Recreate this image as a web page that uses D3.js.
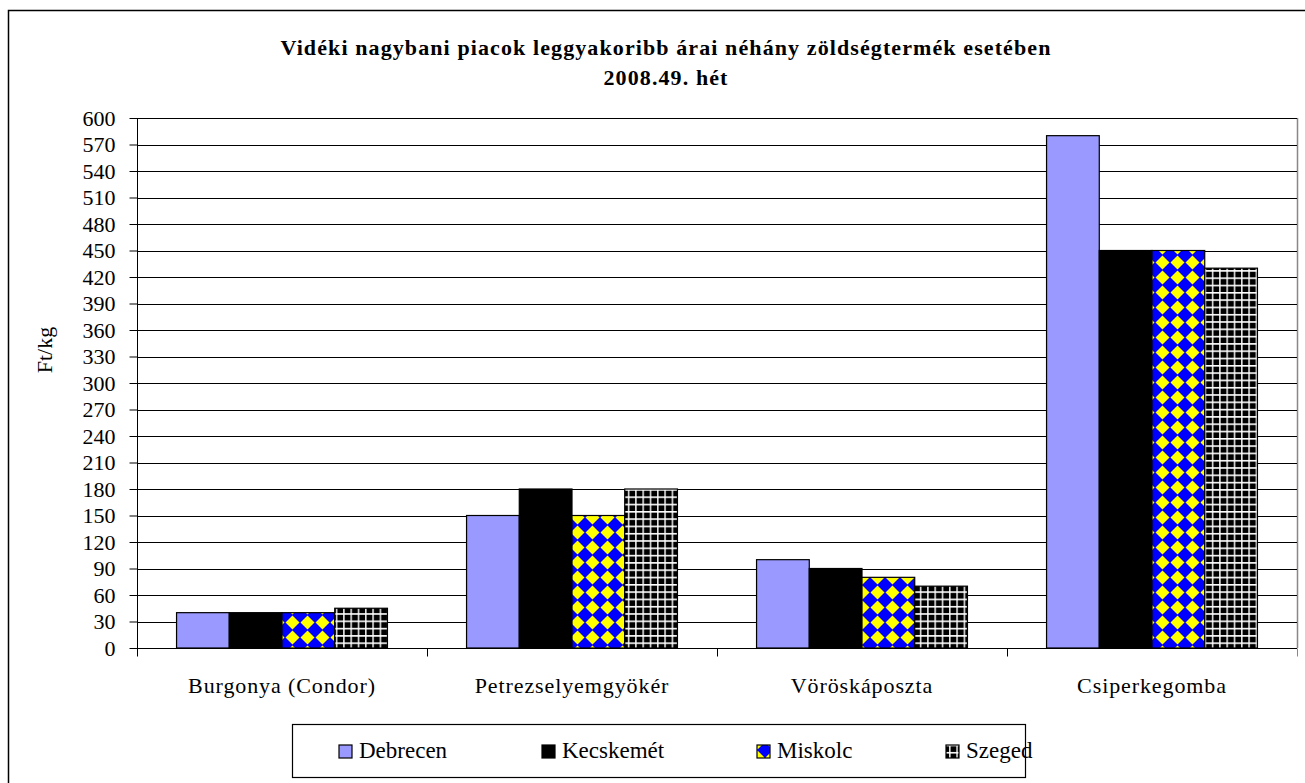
<!DOCTYPE html>
<html>
<head>
  <meta charset="UTF-8">
  <style>
    body { margin: 0; background: #fff; }
    svg text { font-family: "Liberation Serif", "Times New Roman", serif; fill: #000; }
  </style>
</head>
<body>
<svg></svg>
<script src="https://d3js.org/d3.v7.min.js"></script>
<script>

let width = 1305, height = 783;

// data
let categories = ["Burgonya (Condor)", "Petrezselyemgyökér", "Vöröskáposzta", "Csiperkegomba"];
let series = ["Debrecen", "Kecskemét", "Miskolc", "Szeged"];
let debrecen = [40, 150, 100, 580];
let kecskemet = [40, 180, 90, 450];
let miskolc = [40, 150, 80, 450];
let szeged = [45, 180, 70, 430];
let yTicks = d3.range(0, 601, 30);

let values = [debrecen, kecskemet, miskolc, szeged];

let svg = d3.select("svg")
    .attr("width", width)
    .attr("height", height);

let defs = svg.append("defs");

// Miskolc: blue with yellow diamonds
let pm = defs.append("pattern")
    .attr("id", "diamond")
    .attr("patternUnits", "userSpaceOnUse")
    .attr("width", 15).attr("height", 15);
pm.append("rect").attr("width", 15).attr("height", 15).attr("fill", "#0000ff");
pm.append("path").attr("d", "M7.5,0.5 L14.5,7.5 L7.5,14.5 L0.5,7.5 Z").attr("fill", "#ffff00");

// Szeged: black with white grid
let ps = defs.append("pattern")
    .attr("id", "grid")
    .attr("patternUnits", "userSpaceOnUse")
    .attr("width", 7.3).attr("height", 7.3);
ps.append("rect").attr("width", 7.3).attr("height", 7.3).attr("fill", "#000");
ps.append("path").attr("d", "M0.8,0 V7.3 M0,0.8 H7.3").attr("stroke", "#fff").attr("stroke-width", 1.4);

let fills = ["#9999ff", "#000000", "url(#diamond)", "url(#grid)"];

// chart frame
svg.append("rect")
    .attr("x", 8.5).attr("y", 10.5)
    .attr("width", 1310).attr("height", 790)
    .attr("fill", "none").attr("stroke", "#000").attr("stroke-width", 1.5);

// title
let title = svg.append("text")
    .attr("text-anchor", "middle")
    .attr("font-weight", "bold")
    .style("font-size", "22px")
    .style("letter-spacing", "1.1px");
title.append("tspan").attr("x", 666).attr("y", 55).text("Vidéki nagybani piacok leggyakoribb árai néhány zöldségtermék esetében");
title.append("tspan").attr("x", 666).attr("y", 85).text("2008.49. hét");

let margin = {left: 137, right: 1297, top: 118, bottom: 648};

let x = d3.scaleBand()
    .domain(categories)
    .range([margin.left, margin.right])
    .paddingInner(0)
    .paddingOuter(0);

let xs = d3.scaleBand()
    .domain(series)
    .range([x.bandwidth() * 0.75 / 5.5, x.bandwidth() * (1 - 0.75 / 5.5)]);

let y = d3.scaleLinear()
    .domain([0, 600])
    .range([margin.bottom, margin.top]);

// right plot border
svg.append("line")
    .attr("x1", margin.right + 0.5).attr("x2", margin.right + 0.5)
    .attr("y1", margin.top).attr("y2", margin.bottom)
    .attr("stroke", "#888").attr("stroke-width", 1.5);

// gridlines
svg.append("g")
    .selectAll("line")
    .data(yTicks.filter(d => d > 0))
    .enter()
    .append("line")
    .attr("x1", margin.left).attr("x2", margin.right)
    .attr("y1", d => Math.round(y(d)) + 0.5).attr("y2", d => Math.round(y(d)) + 0.5)
    .attr("stroke", "#000").attr("stroke-width", 1);

// bars
series.forEach((s, i) => {
    svg.append("g")
        .selectAll("rect")
        .data(categories)
        .enter()
        .append("rect")
        .attr("x", c => x(c) + xs(s))
        .attr("y", (c, j) => y(values[i][j]))
        .attr("width", xs.bandwidth())
        .attr("height", (c, j) => y(0) - y(values[i][j]))
        .attr("fill", fills[i])
        .attr("stroke", "#000")
        .attr("stroke-width", 1.2);
});

// y axis
let yAxis = svg.append("g")
    .attr("transform", "translate(" + (margin.left + 0.5) + ",0)")
    .call(d3.axisLeft(y).tickValues(yTicks).tickSize(8).tickPadding(14).tickFormat(d3.format("d")));
yAxis.select(".domain").attr("stroke", "#000").attr("d", "M0," + margin.top + "V" + margin.bottom);
yAxis.selectAll("line").attr("stroke", "#000");
yAxis.selectAll("text").style("font-size", "22px");

// x axis
let xAxis = svg.append("g")
    .attr("transform", "translate(0," + (margin.bottom + 0.5) + ")");
xAxis.append("line")
    .attr("x1", margin.left).attr("x2", margin.right)
    .attr("stroke", "#000");
xAxis.selectAll(".tk")
    .data(categories.map(c => x(c)).concat([margin.right]))
    .enter()
    .append("line")
    .attr("x1", d => Math.round(d) + 0.5).attr("x2", d => Math.round(d) + 0.5)
    .attr("y1", 0).attr("y2", 8)
    .attr("stroke", d => d === margin.right ? "#888" : "#000");
xAxis.selectAll("text")
    .data(categories)
    .enter()
    .append("text")
    .attr("x", c => x(c) + x.bandwidth() / 2)
    .attr("y", 44)
    .attr("text-anchor", "middle")
    .style("font-size", "22px")
    .style("letter-spacing", "0.9px")
    .text(c => c);

// y label
svg.append("text")
    .attr("transform", "translate(52,350) rotate(-90)")
    .attr("text-anchor", "middle")
    .style("font-size", "22px")
    .text("Ft/kg");

// legend
let legend = svg.append("g");
legend.append("rect")
    .attr("x", 292.5).attr("y", 724.5)
    .attr("width", 733).attr("height", 53)
    .attr("fill", "#fff").attr("stroke", "#000").attr("stroke-width", 1.2);

let legendX = [339, 542, 757, 946];
series.forEach((s, i) => {
    legend.append("rect")
        .attr("x", legendX[i]).attr("y", 745)
        .attr("width", 13).attr("height", 13)
        .attr("fill", fills[i])
        .attr("stroke", "#000").attr("stroke-width", 1.2);
    legend.append("text")
        .attr("x", legendX[i] + 20).attr("y", 758)
        .style("font-size", "23px")
        .text(s);
});

</script>
</body>
</html>
